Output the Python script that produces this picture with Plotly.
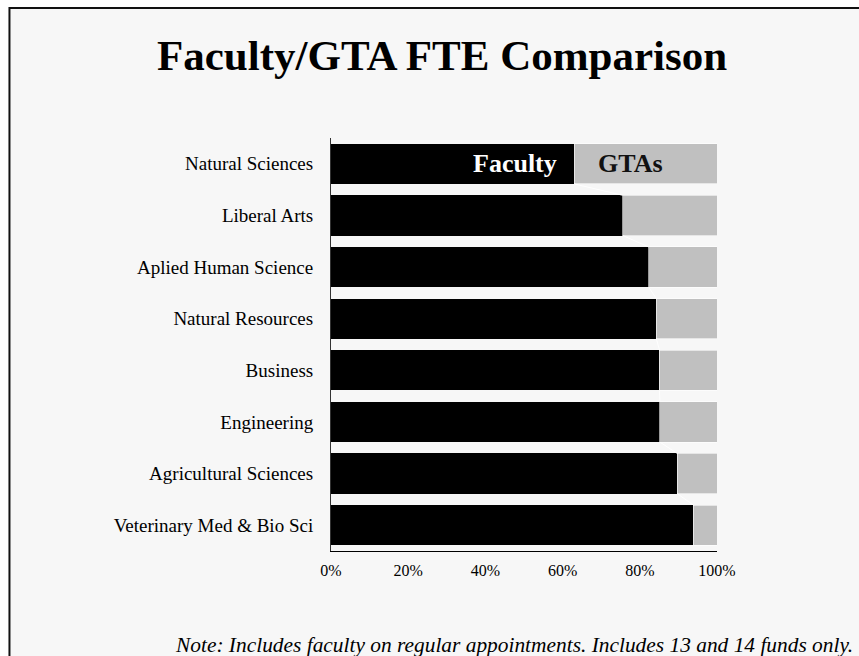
import plotly.graph_objects as go

# Colleges, top to bottom
colleges = [
    "Natural Sciences",
    "Liberal Arts",
    "Aplied Human Science",
    "Natural Resources",
    "Business",
    "Engineering",
    "Agricultural Sciences",
    "Veterinary Med & Bio Sci",
]
# Share of FTE held by faculty (%); GTAs make up the remainder
faculty_pct = [63.0, 75.6, 82.3, 84.3, 85.1, 85.2, 89.7, 93.9]
gta_pct = [100 - f for f in faculty_pct]

x_ticks = [0, 20, 40, 60, 80, 100]
x_tick_text = ["0%", "20%", "40%", "60%", "80%", "100%"]

SERIF = "Times New Roman, Liberation Serif, serif"
BAR_W = 0.78
pos = list(range(len(colleges)))

fig = go.Figure()
fig.add_trace(go.Bar(
    y=pos, x=faculty_pct, orientation="h", name="Faculty",
    marker=dict(color="#000000", line=dict(width=0)), width=BAR_W,
))
fig.add_trace(go.Bar(
    y=pos, x=gta_pct, orientation="h", name="GTAs",
    marker=dict(color="#c0c0c0", line=dict(color="#ffffff", width=0.6)), width=BAR_W,
))

# Series lines joining the faculty ends of neighbouring bars
sx, sy = [], []
for i in range(len(colleges) - 1):
    sx += [faculty_pct[i], faculty_pct[i + 1], None]
    sy += [i + BAR_W / 2, i + 1 - BAR_W / 2, None]
fig.add_trace(go.Scatter(
    x=sx, y=sy, mode="lines", line=dict(color="#ffffff", width=1),
    hoverinfo="skip", showlegend=False,
))

# Framed panel behind the chart
fig.add_shape(
    type="rect", xref="paper", yref="paper",
    x0=-0.833, x1=1.45, y0=-0.4, y1=1.315,
    fillcolor="#f7f7f7", line=dict(color="#111111", width=2), layer="below",
)

annotations = [
    dict(text="<b>Faculty/GTA FTE Comparison</b>", xref="paper", yref="paper",
         x=0.2876, y=1.2, xanchor="center", yanchor="middle", showarrow=False,
         font=dict(family=SERIF, size=43, color="#000000")),
    dict(text="<b>Faculty</b>", xref="x", yref="y", x=faculty_pct[0], y=0,
         xanchor="right", yanchor="middle", xshift=-15, showarrow=False,
         font=dict(family=SERIF, size=26, color="#ffffff")),
    dict(text="<b>GTAs</b>", xref="x", yref="y", x=faculty_pct[0], y=0,
         xanchor="left", yanchor="middle", xshift=22, showarrow=False,
         font=dict(family=SERIF, size=26, color="#111111")),
    dict(text="<i>Note: Includes faculty on regular appointments. Includes 13 and 14 funds only.</i>",
         xref="paper", yref="paper", x=1.3585, y=-0.2276,
         xanchor="right", yanchor="middle", showarrow=False,
         font=dict(family=SERIF, size=21.4, color="#000000")),
]

fig.update_layout(
    width=859, height=656,
    margin=dict(l=331, r=142, t=138, b=105),
    barmode="stack", bargap=0.22,
    showlegend=False,
    paper_bgcolor="#ffffff", plot_bgcolor="rgba(0,0,0,0)",
    font=dict(family=SERIF, color="#000000"),
    annotations=annotations,
)
fig.update_xaxes(
    range=[0, 100], tickvals=x_ticks, ticktext=x_tick_text,
    showgrid=False, zeroline=False, showline=True, linecolor="#000000", linewidth=1,
    ticks="outside", ticklen=5, tickcolor="rgba(0,0,0,0)",
    tickfont=dict(family=SERIF, size=16, color="#000000"),
)
fig.update_yaxes(
    range=[len(colleges) - 0.5, -0.5], tickvals=pos, ticktext=colleges,
    showgrid=False, zeroline=False, showline=True, linecolor="#333333", linewidth=1,
    ticks="outside", ticklen=13, tickcolor="rgba(0,0,0,0)",
    tickfont=dict(family=SERIF, size=19, color="#000000"),
)

fig.write_html("out.html")
